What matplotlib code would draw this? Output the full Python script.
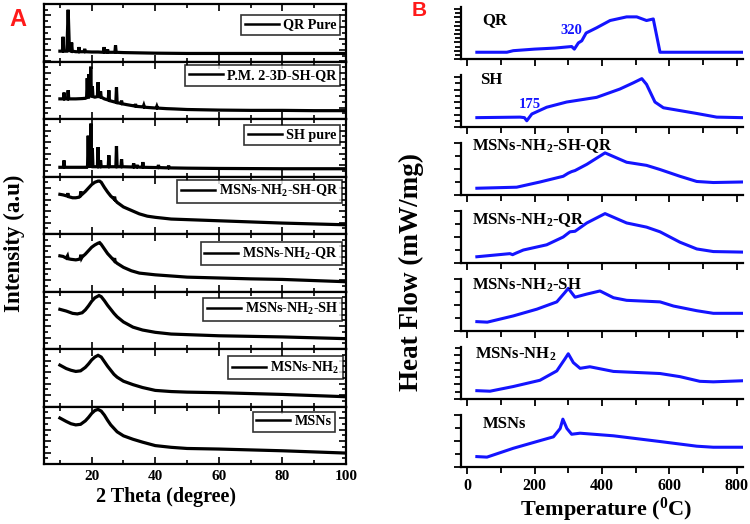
import matplotlib
matplotlib.use("Agg")
import matplotlib.pyplot as plt
from matplotlib.ticker import MultipleLocator, NullFormatter

plt.rcParams['font.family'] = ['Liberation Serif', 'DejaVu Serif']
plt.rcParams['font.weight'] = 'bold'
plt.rcParams['mathtext.fontset'] = 'custom'
plt.rcParams['mathtext.rm'] = 'Liberation Serif:bold'
plt.rcParams['mathtext.it'] = 'Liberation Serif:bold'
plt.rcParams['mathtext.bf'] = 'Liberation Serif:bold'

# ---------------- Panel A: XRD (2 theta, relative intensity in % of panel) --------------
xrd_labels = ['QR Pure', 'P.M. 2-3D-SH-QR', 'SH pure',
              r'MSNs-NH$_\mathrm{2}$-SH-QR', r'MSNs-NH$_\mathrm{2}$-QR',
              r'MSNs-NH$_\mathrm{2}$-SH', r'MSNs-NH$_\mathrm{2}$', 'MSNs']

qr_x = [10.0, 10.8, 11.0, 11.2, 12.2, 12.6, 13.0, 13.5, 13.7, 13.9, 15.0, 15.8, 16.0, 16.2,
        17.6, 17.8, 18.0, 20, 22, 23.7, 23.9, 24.1, 24.8, 25.0, 25.2, 27.3, 27.5, 27.7,
        30, 35, 40, 50, 60, 80, 100]
qr_y = [18, 18, 43, 18, 18, 90, 19, 18, 33, 18, 17, 17, 25, 17,
        17, 22, 17, 16.5, 16.5, 16, 25, 16, 16, 21, 16, 16, 28, 16,
        15.5, 15, 14.5, 14, 14, 14, 14]

pm_x = [10, 11.1, 11.3, 11.5, 12.4, 12.6, 12.8, 15, 17, 18.0, 18.4, 18.6, 18.8, 19.0, 19.1,
        19.3, 19.5, 19.7, 19.9, 20.0, 20.2, 20.4, 21, 21.8, 22.0, 22.2, 22.6, 22.8, 23.0,
        24, 25.2, 25.4, 25.6, 27.6, 27.8, 28.0, 29.2, 29.4, 29.6, 31, 33.6, 33.8, 34.0,
        36.2, 36.4, 36.6, 40.3, 40.5, 40.7, 43.6, 46, 50, 55, 60, 70, 80, 90, 100]
pm_y = [35, 35, 46, 35, 35, 50, 35, 35, 35.5, 36, 37, 71, 38, 38, 78,
        40, 40, 91, 42, 42, 57, 39, 38, 39, 64, 39, 38.5, 48, 38,
        35, 33, 50, 32, 29, 55, 28.5, 27, 32, 26.5, 25, 22.5, 26, 22,
        21, 24, 20.5, 19, 22, 19, 18, 17.5, 16.5, 16, 15.5, 15, 15, 14.5, 14.5]

sh_x = [10, 11.1, 11.3, 11.5, 18.5, 18.7, 18.9, 19.1, 19.2, 19.4, 19.55, 19.6, 19.75, 19.9,
        20.0, 20.2, 20.4, 21.8, 22.0, 22.2, 22.6, 22.8, 23.0, 25.2, 25.4, 25.6, 27.6, 27.8,
        28.0, 29.2, 29.4, 29.6, 33.0, 33.2, 33.4, 34.1, 34.3, 34.5, 35.9, 36.1, 36.3,
        40.8, 41.0, 41.2, 44.0, 44.2, 44.4, 50, 60, 80, 100]
sh_y = [16, 16, 28, 16, 16, 18, 71, 18, 18, 52, 18, 18, 92, 18,
        18, 49, 17, 17, 51, 17, 17, 28, 17, 17, 37, 17, 17, 53,
        17, 17, 30, 17, 16.5, 23, 16.5, 16.5, 20, 16.5, 16, 25, 16,
        15.5, 20, 15.5, 15, 19, 15, 14.5, 14, 13.5, 13.5]

shqr_x = [10, 11, 12.3, 12.5, 12.7, 14, 15, 16, 16.4, 16.6, 16.8, 18, 19, 20, 21, 22, 22.5,
          23, 24, 25, 26, 27, 27.2, 27.4, 28, 30, 32.5, 35, 37.5, 40, 45, 50, 60, 70, 80, 90, 100]
shqr_y = [69, 68, 66, 71, 65, 63, 63, 64, 66, 74, 68, 74, 80, 86, 90, 92, 92,
          90, 81, 73, 66, 61, 65, 59, 55, 47, 41, 35, 31, 29, 26, 25, 23, 21, 19, 17.5, 16]

nqr_x = [10, 11, 12, 12.4, 12.6, 13.5, 15, 16, 16.4, 16.6, 16.8, 17, 18, 19, 20, 21, 22,
         22.5, 23, 24, 25, 26, 27, 27.2, 27.4, 28, 30, 32.5, 35, 40, 45, 50, 60, 70, 80, 90, 100]
nqr_y = [62, 61, 58, 62, 57, 56, 55, 56, 58, 64, 58, 60, 65, 71, 77, 81, 84,
         85, 82, 74, 66, 60, 54, 58, 52, 49, 42, 36, 32, 29, 27, 25, 23.5, 22, 21, 19, 17]

nsh_x = [10, 12, 14, 15.5, 17, 18, 19, 20, 21, 22.3, 23, 24, 25, 26, 27, 28, 30, 33, 36,
         40, 45, 50, 60, 70, 80, 90, 100]
nsh_y = [69, 66, 62, 61, 63, 68, 75, 83, 89, 93, 91, 84, 76, 69, 62, 56, 47, 38, 33,
         29, 26, 25, 23, 22, 21, 19.5, 18]

nh2_x = [10, 12, 13.5, 15, 16.5, 18, 19, 20, 21, 22, 23, 24, 25, 26, 27, 28, 30, 33, 36,
         40, 45, 50, 60, 70, 80, 90, 100]
nh2_y = [72, 66, 63, 61, 62, 68, 74, 81, 86, 89, 86, 78, 70, 63, 56, 51, 44, 38, 33,
         28, 26, 25, 24, 22.5, 21, 19, 17]

msn_x = [10, 12, 13.5, 15, 16.5, 18, 19, 20, 21, 22, 23, 24, 25, 26, 27, 28, 30, 33, 36,
         40, 45, 50, 60, 70, 80, 90, 100]
msn_y = [80, 74, 70, 68, 69, 75, 81, 88, 93, 95, 92, 85, 76, 68, 62, 56, 49, 43, 38,
         32, 29, 27, 26, 24.5, 23, 21, 19]

xrd_series = [(qr_x, qr_y), (pm_x, pm_y), (sh_x, sh_y), (shqr_x, shqr_y),
              (nqr_x, nqr_y), (nsh_x, nsh_y), (nh2_x, nh2_y), (msn_x, msn_y)]
xrd_ticks = [20, 40, 60, 80, 100]

# ---------------- Panel B: DSC (temperature, heat flow in % of panel) -------------------
dsc_labels = ['QR', 'SH', r'MSNs-NH$_\mathrm{2}$-SH-QR', r'MSNs-NH$_\mathrm{2}$-QR',
              r'MSNs-NH$_\mathrm{2}$-SH', r'MSNs-NH$_\mathrm{2}$', 'MSNs']

dqr_t = [29, 118, 137, 200, 260, 310, 318, 330, 340, 353, 384, 424, 473, 503, 532, 552, 572, 814]
dqr_y = [13, 13, 16, 19, 21, 24, 19, 31, 35, 50, 60, 74, 81, 81, 74, 77, 13, 13]

dsh_t = [29, 157, 170, 177, 192, 236, 295, 384, 453, 493, 518, 532, 557, 582, 681, 740, 814]
dsh_y = [18, 19, 18, 12, 25, 38, 48, 57, 73, 85, 93, 82, 48, 37, 26, 19, 18]

dshqr_t = [29, 147, 216, 285, 300, 310, 320, 355, 409, 473, 532, 572, 631, 681, 730, 814]
dshqr_y = [13, 15, 25, 36, 42, 45, 47, 59, 81, 63, 57, 49, 36, 26, 24, 25]

dnqr_t = [29, 127, 135, 145, 167, 236, 285, 305, 320, 355, 409, 473, 532, 572, 631, 681, 730, 814]
dnqr_y = [12, 18, 16, 19, 25, 35, 50, 60, 61, 77, 95, 77, 69, 60, 40, 27, 22, 21]

dnsh_t = [29, 60, 137, 207, 266, 290, 300, 320, 355, 394, 434, 473, 572, 612, 681, 730, 814]
dnsh_y = [18, 17, 29, 42, 56, 74, 82, 65, 71, 77, 64, 59, 56, 48, 39, 34, 34]

dnh2_t = [29, 68, 137, 216, 266, 290, 300, 315, 335, 364, 434, 572, 631, 690, 730, 814]
dnh2_y = [16, 15, 24, 36, 54, 77, 87, 70, 59, 62, 53, 49, 43, 34, 33, 35]

dmsn_t = [29, 59, 137, 207, 256, 276, 284, 296, 310, 335, 434, 572, 681, 730, 814]
dmsn_y = [20, 19, 36, 49, 58, 74, 92, 74, 63, 65, 60, 49, 40, 38, 38]

dsc_series = [(dqr_t, dqr_y), (dsh_t, dsh_y), (dshqr_t, dshqr_y), (dnqr_t, dnqr_y),
              (dnsh_t, dnsh_y), (dnh2_t, dnh2_y), (dmsn_t, dmsn_y)]
dsc_ticks = [0, 200, 400, 600, 800]

# annotations on DSC panel
dsc_notes_idx = [0, 1]
dsc_notes_txt = ['320', '175']

# ---------------------------------------------------------------------------------------
W, H = 750, 524
fig = plt.figure(figsize=(W / 100, H / 100), dpi=100)

def fx(px):
    return px / W

def fy(py):
    return 1 - py / H

# ---- Panel A layout
a_left, a_right, a_top, a_bot = 44, 346, 4, 464
n_a = len(xrd_series)
ph = (a_bot - a_top) / n_a
legend_off = [(6, 11), (6, 4), (6, 6), (4, 3), (4, 8), (4, 6), (3, 7), (11, 5)]
for i, ((xs, ys), lab) in enumerate(zip(xrd_series, xrd_labels)):
    top = a_top + i * ph
    ax = fig.add_axes([fx(a_left), fy(top + ph), fx(a_right - a_left), ph / H])
    ax.plot(xs, ys, color='black', lw=2.3, label=lab, solid_joinstyle='miter')
    ax.set_xlim(5, 100)
    ax.set_ylim(0, 100)
    ax.xaxis.set_major_locator(MultipleLocator(20))
    ax.xaxis.set_minor_locator(MultipleLocator(10))
    ax.yaxis.set_major_locator(MultipleLocator(20))
    ax.yaxis.set_minor_locator(MultipleLocator(10))
    ax.tick_params(which='both', direction='in', top=True, right=True, width=1.2)
    ax.tick_params(which='major', length=5)
    ax.tick_params(which='minor', length=3)
    ax.set_yticklabels([])
    for s in ax.spines.values():
        s.set_linewidth(1.6)
    if i < n_a - 1:
        ax.set_xticklabels([])
    else:
        ax.set_xticks(xrd_ticks)
        ax.set_xticklabels([str(t) for t in xrd_ticks], fontsize=11, fontweight='bold')
        ax.tick_params(axis='x', pad=4)
    dx, dy = legend_off[i]
    pw = a_right - a_left
    leg = ax.legend(loc='upper right', bbox_to_anchor=(1 - dx / pw, 1 - dy / ph),
                    borderaxespad=0, frameon=True, fancybox=False, handlelength=2.4,
                    handletextpad=0.3, borderpad=0.25,
                    prop={'family': 'Liberation Serif', 'weight': 'bold', 'size': 10.2})
    leg.get_frame().set_edgecolor('black')
    leg.get_frame().set_linewidth(1.2)
    for l in leg.get_lines():
        l.set_linewidth(1.8)

fig.text(fx(166), fy(497), '2 Theta (degree)', ha='center', va='center',
         fontsize=14.5, fontweight='bold')
fig.text(fx(14), fy(243), 'Intensity (a.u)', ha='center', va='center', rotation=90,
         fontsize=16.5, fontweight='bold')
fig.text(fx(18), fy(20), 'A', ha='center', va='center', color='#ff1a1a',
         fontsize=17, fontweight='bold', family='Liberation Sans')

# ---- Panel B layout
b_left, b_right = 461, 743
b_tops = [7, 75, 143, 211, 279, 347, 415]
b_h = 52
label_pos = [(482, 20), (480, 80), (472, 146), (472, 220), (472, 285), (475, 354), (483, 424)]
note_pos = [(571, 30), (530, 105)]
ytick_step = [8, 12, 25, 25, 25, 14, 25]
for i, ((ts, ys), lab) in enumerate(zip(dsc_series, dsc_labels)):
    top = b_tops[i]
    ax = fig.add_axes([fx(b_left), fy(top + b_h), fx(b_right - b_left), b_h / H])
    ax.plot(ts, ys, color='#1414ff', lw=2.2)
    ax.set_xlim(-18, 818)
    ax.set_ylim(0, 100)
    ax.spines['top'].set_visible(False)
    ax.spines['right'].set_visible(False)
    ax.spines['left'].set_linewidth(1.6)
    ax.spines['bottom'].set_linewidth(1.6)
    ax.xaxis.set_major_locator(MultipleLocator(200))
    ax.xaxis.set_minor_locator(MultipleLocator(100))
    ax.yaxis.set_major_locator(MultipleLocator(ytick_step[i] * 2))
    ax.yaxis.set_minor_locator(MultipleLocator(ytick_step[i]))
    ax.tick_params(which='both', direction='out', width=1.3)
    ax.tick_params(which='major', length=5)
    ax.tick_params(which='minor', length=4)
    ax.set_yticklabels([])
    ax.yaxis.set_minor_formatter(NullFormatter())
    if i < len(dsc_series) - 1:
        ax.set_xticklabels([])
    else:
        ax.set_xticks(dsc_ticks)
        ax.set_xticklabels([str(t) for t in dsc_ticks], fontsize=11.5, fontweight='bold')
        ax.tick_params(axis='x', pad=3)
    lx, ly = label_pos[i]
    fig.text(fx(lx), fy(ly), lab, ha='left', va='center', fontsize=12, fontweight='bold')

for k, txt in zip(dsc_notes_idx, dsc_notes_txt):
    nx, ny = note_pos[k]
    fig.text(fx(nx), fy(ny), txt, ha='center', va='center', fontsize=10.5,
             fontweight='bold', color='#1414ff')

fig.text(fx(606), fy(510), r'Temperature ($^\mathrm{0}$C)', ha='center', va='center',
         fontsize=16, fontweight='bold')
fig.text(fx(411), fy(272), 'Heat Flow (mW/mg)', ha='center', va='center', rotation=90,
         fontsize=19.5, fontweight='bold')
fig.text(fx(419), fy(10), 'B', ha='center', va='center', color='#ff1a1a',
         fontsize=15, fontweight='bold', family='Liberation Sans')

fig.savefig('out.png', dpi=100)
